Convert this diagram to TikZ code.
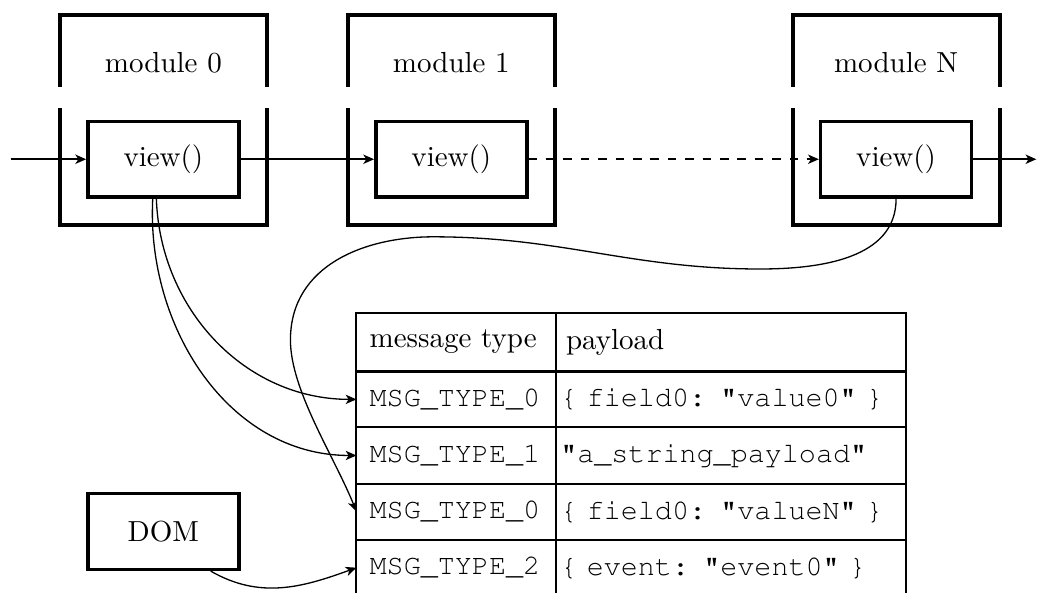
\documentclass[tikz,border=0pt]{standalone}
\usepackage[T1]{fontenc}
\usepackage{fontspec}
\usetikzlibrary{arrows.meta,positioning}

\begin{document}
\begin{tikzpicture}[
    frame/.style={line width=1.4pt},
    view/.style={draw, very thick, minimum width=1.83cm, minimum height=0.92cm},
    flow/.style={-{Stealth[length=3.7pt, width=3.2pt, inset=1pt]}, semithick},
    link/.style={-{Stealth[length=3.7pt, width=3.2pt, inset=1pt]}, line width=0.45pt},
    typecell/.style={draw, line width=0.7pt, outer sep=0pt, minimum height=0.68cm, text width=2.1cm, inner xsep=0.16cm, align=left},
    paycell/.style={typecell, text width=4.14cm, inner xsep=0.05cm},
    mono/.style={font=\fontencoding{T1}\fontfamily{pcr}\fontsize{9.8}{11}\selectfont}
]
    \useasboundingbox (0,0) rectangle (12.58,-7.18);

    % modules, each frame is open at the sides
    \foreach \x/\n in {1.98/0, 5.47/1, 10.86/N} {
        \draw[frame] (\x-1.255,-1.05) |- (\x+1.255,-0.18) -- (\x+1.255,-1.05);
        \draw[frame] (\x-1.255,-1.31) |- (\x+1.255,-2.73) -- (\x+1.255,-1.31);
        \node (m\n) at (\x,-0.76) {module \n};
        \node[view] (v\n) at (\x,-1.93) {view()};
    }

    % chain of view() calls
    \coordinate (in) at (0.13,-1.93);
    \coordinate (out) at (12.56,-1.93);
    \draw[flow] (in) -- (v0);
    \draw[flow] (v0) -- (v1);
    \draw[flow, dashed] (v1) -- (vN);
    \draw[flow] (vN) -- (out);

    % message table
    \node[typecell, minimum height=0.71cm] (hdtype) at (5.53,-4.145) {message type};
    \node[paycell, inner xsep=0.12cm, text width=4cm, minimum height=0.71cm, right=0pt of hdtype] (hdpay) {payload};
    \node[typecell, mono, below=0pt of hdtype] (t1) {MSG\_TYPE\_0};
    \node[paycell, mono, right=0pt of t1] (p1) {\{ field0: "value0" \}};
    \node[typecell, mono, below=0pt of t1] (t2) {MSG\_TYPE\_1};
    \node[paycell, mono, right=0pt of t2] (p2) {"a\_string\_payload"};
    \node[typecell, mono, below=0pt of t2] (t3) {MSG\_TYPE\_0};
    \node[paycell, mono, right=0pt of t3] (p3) {\{ field0: "valueN" \}};
    \node[typecell, mono, below=0pt of t3] (t4) {MSG\_TYPE\_2};
    \node[paycell, mono, right=0pt of t4] (p4) {\{ event: "event0" \}};
    \draw[very thick] (hdtype.south west) -- (hdpay.south east);

    \node[view] (dom) at (1.98,-6.44) {DOM};

    % messages sent into the table
    \draw[link] (v0.-100) to[out=-88, in=180] (t1.west);
    \draw[link] (v0.-105) to[out=-93, in=180] (t2.west);
    \draw[link] (vN.south) to[out=-90, in=0] (9.21,-3.26) to[out=180, in=0] (5.25,-2.87)
        .. controls +(-0.82,0) and +(0,0.91) .. (3.52,-4.12)
        .. controls +(0,-0.61) and +(-0.27,0.67) .. (t3.west);
    \draw[link] (dom.-40) to[out=-30, in=200] (t4.west);
\end{tikzpicture}
\end{document}
